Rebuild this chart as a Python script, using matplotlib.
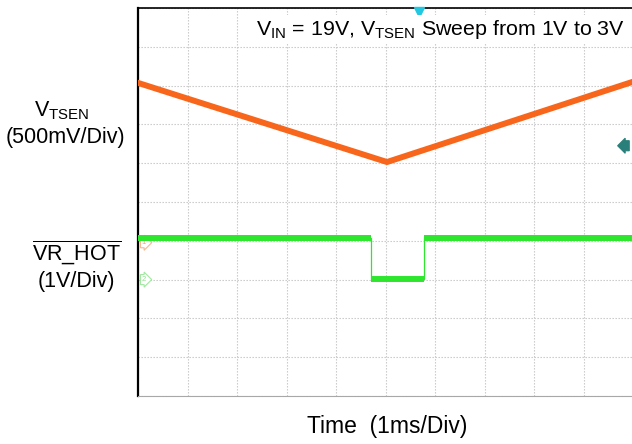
import matplotlib.pyplot as plt

plt.rcParams['font.family'] = ['Liberation Sans', 'DejaVu Sans']
plt.rcParams['mathtext.fontset'] = 'custom'
plt.rcParams['mathtext.rm'] = 'Liberation Sans'
plt.rcParams['mathtext.it'] = 'Liberation Sans'

# scope traces, time in ms (1 ms/div), level in screen divisions
tsen_t = [0.0, 5.03, 10.0]
tsen_div = [8.07, 6.03, 8.1]

hot_t = [0.0, 4.71, 4.71, 5.78, 5.78, 10.0]
hot_div = [4.07, 4.07, 3.02, 3.02, 4.07, 4.07]

orange = '#F8661C'
green = '#2EE62E'

fig = plt.figure(figsize=(6.32, 4.44), dpi=100)
ax = fig.add_axes([138 / 632, 1 - 396 / 444, 495 / 632, 388 / 444])
ax.set_xlim(0, 10)
ax.set_ylim(0, 10)

ax.set_xticks(range(11))
ax.set_yticks(range(11))
ax.tick_params(length=0, labelbottom=False, labelleft=False)
ax.grid(True, color='#c4c4c4', linestyle=(0, (1.2, 1.5)), linewidth=0.8)

ax.spines['right'].set_visible(False)
ax.spines['left'].set_linewidth(1.6)
ax.spines['top'].set_linewidth(1.2)
ax.spines['bottom'].set_color('#a8a8a8')
ax.spines['bottom'].set_linewidth(0.8)

# VR_HOT: thin edges, thick plateaus
ax.plot(hot_t, hot_div, color=green, lw=0.9, zorder=3)
for i in range(0, len(hot_t) - 1, 2):
    ax.plot(hot_t[i:i + 2], hot_div[i:i + 2], color=green, lw=4.3,
            solid_capstyle='butt', zorder=3)

ax.plot(tsen_t, tsen_div, color=orange, lw=4.3, zorder=4)

# channel markers
ax.text(0.08, 3.95, '1', fontsize=5.5, color='#f0a070', va='center', ha='left',
        bbox=dict(boxstyle='rarrow,pad=0.2', fc='white', ec='#f5b890', lw=0.8), zorder=2)
ax.text(0.08, 3.0, '2', fontsize=5.5, color='#90e090', va='center', ha='left',
        bbox=dict(boxstyle='rarrow,pad=0.2', fc='white', ec='#a0e8a0', lw=0.8), zorder=2)
ax.text(9.8, 6.45, 'T', fontsize=5.5, color='#2a7f7a', va='center', ha='left',
        bbox=dict(boxstyle='larrow,pad=0.2', fc='#2a7f7a', ec='#2a7f7a', lw=0.8), zorder=2)
ax.plot([5.68], [9.9], marker='v', color='#22c8e0', ms=7, clip_on=False, zorder=5)

fig.text(625 / 632, 1 - 35 / 444,
         r'$\mathrm{V_{IN}}$ = 19V, $\mathrm{V_{TSEN}}$ Sweep from 1V to 3V',
         fontsize=15.4, ha='right', va='baseline',
         bbox=dict(fc='white', ec='none', pad=2))

fig.text(62 / 632, 1 - 116 / 444, r'$\mathrm{V_{TSEN}}$', fontsize=15.5,
         ha='center', va='baseline')
fig.text(65 / 632, 1 - 143 / 444, '(500mV/Div)', fontsize=15.5,
         ha='center', va='baseline')
fig.text(77 / 632, 1 - 260 / 444, r'$\overline{\mathrm{VR\_HOT}}$', fontsize=15.5,
         ha='center', va='baseline')
fig.text(76 / 632, 1 - 287 / 444, '(1V/Div)', fontsize=15.5,
         ha='center', va='baseline')
fig.text(387 / 632, 1 - 433 / 444, 'Time  (1ms/Div)', fontsize=16.5,
         ha='center', va='baseline')

fig.savefig('out.png', dpi=100)
